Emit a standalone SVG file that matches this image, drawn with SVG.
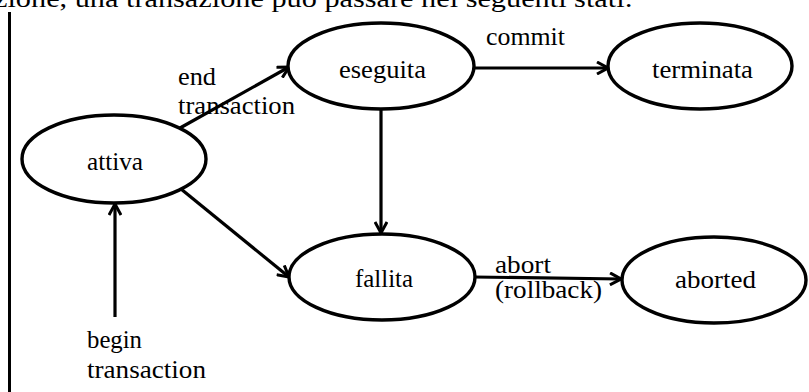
<svg xmlns="http://www.w3.org/2000/svg" width="809" height="392" viewBox="0 0 809 392">
<style>
text{font-family:"Liberation Serif","Times New Roman",Times,serif;font-size:25px;fill:#000}
.n ellipse{fill:#fff;stroke:#000;stroke-width:3.4}
.c line{stroke:#000;stroke-width:3.2;fill:none}
</style>
<defs>
<marker id="ah" viewBox="0 0 14 14" refX="13" refY="7" markerWidth="14" markerHeight="14" markerUnits="userSpaceOnUse" orient="auto">
<path d="M2,1 L13,7 L2,13" fill="none" stroke="#000" stroke-width="3"/>
</marker>
</defs>
<rect width="809" height="392" fill="#fff"/>
<text x="-6" y="7" font-size="27" textLength="639" lengthAdjust="spacingAndGlyphs">zione, una transazione può passare nei seguenti stati:</text>
<line x1="9.5" y1="12" x2="9.5" y2="392" stroke="#000" stroke-width="3"/>
<g class="c" id="connectors">
<line x1="180" y1="128" x2="289" y2="67" marker-end="url(#ah)"/>
<line x1="474" y1="68" x2="608" y2="68" marker-end="url(#ah)"/>
<line x1="381" y1="109" x2="381" y2="233" marker-end="url(#ah)"/>
<line x1="181" y1="189" x2="289" y2="277" marker-end="url(#ah)"/>
<line x1="115" y1="317" x2="115" y2="204" marker-end="url(#ah)"/>
<line x1="474" y1="277" x2="621" y2="279" marker-end="url(#ah)"/>
</g>
<g id="labels">
<text x="486" y="45" textLength="79" lengthAdjust="spacingAndGlyphs">commit</text>
<text x="178" y="85" textLength="38" lengthAdjust="spacingAndGlyphs">end</text>
<text x="178" y="114" textLength="117" lengthAdjust="spacingAndGlyphs">transaction</text>
<text x="87" y="348" textLength="55" lengthAdjust="spacingAndGlyphs">begin</text>
<text x="87" y="378" textLength="119" lengthAdjust="spacingAndGlyphs">transaction</text>
<text x="495" y="273" textLength="56" lengthAdjust="spacingAndGlyphs">abort</text>
<text x="495" y="298" textLength="107" lengthAdjust="spacingAndGlyphs">(rollback)</text>
</g>
<g class="n" id="attiva"><ellipse cx="114" cy="159" rx="92" ry="44"/><text x="87" y="170" textLength="56" lengthAdjust="spacingAndGlyphs">attiva</text></g>
<g class="n" id="eseguita"><ellipse cx="381" cy="66" rx="93" ry="43"/><text x="339" y="78" textLength="87" lengthAdjust="spacingAndGlyphs">eseguita</text></g>
<g class="n" id="terminata"><ellipse cx="700" cy="66" rx="92" ry="43"/><text x="652" y="78" textLength="101" lengthAdjust="spacingAndGlyphs">terminata</text></g>
<g class="n" id="fallita"><ellipse cx="382" cy="277" rx="93" ry="43"/><text x="355" y="287" textLength="58" lengthAdjust="spacingAndGlyphs">fallita</text></g>
<g class="n" id="aborted"><ellipse cx="714" cy="280" rx="92" ry="43"/><text x="675" y="288" textLength="81" lengthAdjust="spacingAndGlyphs">aborted</text></g>
</svg>
